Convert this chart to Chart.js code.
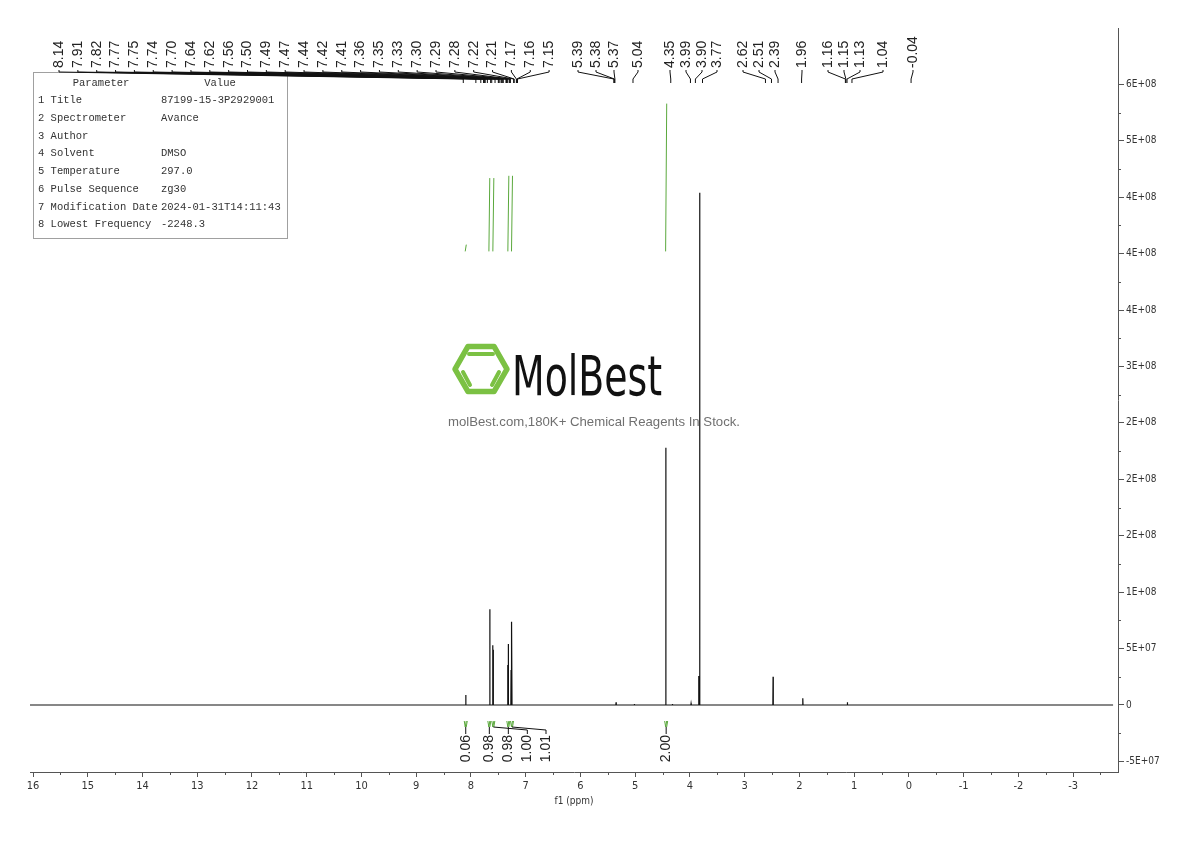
<!DOCTYPE html>
<html>
<head>
<meta charset="utf-8">
<title>1H NMR 87199-15-3</title>
<script src="https://cdn.jsdelivr.net/npm/chart.js@4.4.1/dist/chart.umd.min.js"></script>
<style>
  html, body { margin: 0; padding: 0; background: #fff; }
  #wrap { width: 1190px; height: 841px; }
</style>
</head>
<body>
<div id="wrap"><canvas id="spectrum" width="1190" height="841"></canvas></div>
<script>
// peaks: shift (ppm) and intensity
const peakPpm = [8.095, 7.656, 7.604, 7.595, 7.327, 7.316, 7.267, 7.254, 5.349, 5.015, 4.441, 4.320, 3.979, 3.838, 3.820, 2.481, 1.938, 1.124];
const peakHeight = [8.9e6, 8.48e7, 5.3e7, 4.9e7, 3.55e7, 5.41e7, 3.1e7, 7.38e7, 2.4e6, 0.9e6, 2.28e8, 0.9e6, 1.3e6, 2.57e7, 4.54e8, 2.51e7, 5.9e6, 2.4e6];

// integral curves (green), start/end shift and low/high level
const integralStart = [8.105, 7.672, 7.600, 7.326, 7.259, 4.444];
const integralEnd = [8.085, 7.656, 7.582, 7.308, 7.241, 4.424];
const integralLow = [4.02e8, 4.02e8, 4.02e8, 4.02e8, 4.02e8, 4.02e8];
const integralHigh = [4.08e8, 4.67e8, 4.67e8, 4.69e8, 4.69e8, 5.33e8];
const integralText = ['0.06', '0.98', '1.00', '0.98', '1.01', '2.00'];

// peak picking labels
const peakLabels = ['8.14', '7.91', '7.82', '7.77', '7.75', '7.74', '7.70', '7.64', '7.62', '7.56', '7.50', '7.49', '7.47',
    '7.44', '7.42', '7.41', '7.36', '7.35', '7.33', '7.30', '7.29', '7.28', '7.22', '7.21', '7.17', '7.16', '7.15',
    '5.39', '5.38', '5.37', '5.04', '4.35', '3.99', '3.90', '3.77', '2.62', '2.51', '2.39', '1.96',
    '1.16', '1.15', '1.13', '1.04', '-0.04'];

const xTicks = [16, 15, 14, 13, 12, 11, 10, 9, 8, 7, 6, 5, 4, 3, 2, 1, 0, -1, -2, -3];
const yTicks = [-5e7, 0, 5e7, 1e8, 1.5e8, 2e8, 2.5e8, 3e8, 3.5e8, 4e8, 4.5e8, 5e8, 5.5e8];
const yTickLabels = ['-5E+07', '0', '5E+07', '1E+08', '2E+08', '2E+08', '2E+08', '3E+08', '4E+08', '4E+08', '4E+08', '5E+08', '6E+08'];

const paramNames = ['1 Title', '2 Spectrometer', '3 Author', '4 Solvent', '5 Temperature', '6 Pulse Sequence', '7 Modification Date', '8 Lowest Frequency'];
const paramValues = ['87199-15-3P2929001', 'Avance', '', 'DMSO', '297.0', 'zg30', '2024-01-31T14:11:43', '-2248.3'];

// layout of the label columns (pixels)
const labelX = [];
for (let i = 0; i < 27; i++) labelX.push(59 + i * 18.85);
labelX.push(578, 596, 614, 638, 670, 686, 702, 717, 743, 759, 775, 802, 828, 844, 860, 883, 913);
const integralShift = [0, 0, 34, 0, 34, 0];

const AXIS_FONT = '"DejaVu Sans Condensed", "Liberation Sans Narrow", sans-serif';
const LABEL_FONT = '14px "Liberation Sans", Arial, sans-serif';
const GREEN = '#5aa83c';

// build the trace: flat baseline with narrow peaks
const W = 0.004;
const spectrumPts = [{ x: 16.055, y: 0 }];
peakPpm.forEach((p, i) => {
    spectrumPts.push({ x: p + W, y: 0 }, { x: p, y: peakHeight[i] }, { x: p - W, y: 0 });
});
spectrumPts.push({ x: -3.73, y: 0 });

const datasets = [{
    data: spectrumPts,
    showLine: true,
    borderColor: '#111',
    borderWidth: 1.2,
    pointRadius: 0,
    tension: 0
}];
integralText.forEach((t, i) => {
    datasets.push({
        data: [{ x: integralStart[i], y: integralLow[i] }, { x: integralEnd[i], y: integralHigh[i] }],
        showLine: true,
        borderColor: GREEN,
        borderWidth: 1,
        pointRadius: 0
    });
});

function drawWatermark(ctx) {
    const cx = 481, cy = 369, r = 26;
    ctx.save();
    ctx.strokeStyle = '#7bc143';
    ctx.lineWidth = 5.5;
    ctx.lineJoin = 'round';
    ctx.beginPath();
    for (let k = 0; k < 6; k++) {
        const a = k * Math.PI / 3;
        const px = cx + r * Math.cos(a), py = cy + r * Math.sin(a);
        if (k === 0) ctx.moveTo(px, py); else ctx.lineTo(px, py);
    }
    ctx.closePath();
    ctx.stroke();
    ctx.lineWidth = 4;
    ctx.lineCap = 'round';
    ctx.beginPath();
    ctx.moveTo(cx - 12, cy - 15); ctx.lineTo(cx + 12, cy - 15);
    ctx.moveTo(cx - 18, cy + 3); ctx.lineTo(cx - 11, cy + 16);
    ctx.moveTo(cx + 18, cy + 3); ctx.lineTo(cx + 11, cy + 16);
    ctx.stroke();

    ctx.fillStyle = '#111';
    ctx.font = '56px ' + AXIS_FONT;
    ctx.textBaseline = 'alphabetic';
    ctx.textAlign = 'left';
    let w = ctx.measureText('MolBest').width;
    ctx.save();
    ctx.translate(512, 395);
    ctx.scale(150 / w, 1);
    ctx.fillText('MolBest', 0, 0);
    ctx.restore();

    ctx.fillStyle = '#707070';
    ctx.font = '13px "Liberation Sans", Arial, sans-serif';
    const sub = 'molBest.com,180K+ Chemical Reagents In Stock.';
    w = ctx.measureText(sub).width;
    ctx.save();
    ctx.translate(448, 426);
    ctx.scale(292 / w, 1);
    ctx.fillText(sub, 0, 0);
    ctx.restore();
    ctx.restore();
}

function drawTable(ctx) {
    ctx.save();
    ctx.strokeStyle = '#a0a0a0';
    ctx.lineWidth = 1;
    ctx.strokeRect(33.5, 72.5, 254, 166);
    ctx.fillStyle = '#333';
    ctx.font = '10.5px "Liberation Mono", monospace';
    ctx.textBaseline = 'middle';
    ctx.textAlign = 'center';
    ctx.fillText('Parameter', 101, 83);
    ctx.fillText('Value', 220, 83);
    ctx.textAlign = 'left';
    paramNames.forEach((n, i) => {
        const y = 100.3 + 17.75 * i;
        ctx.fillText(n, 38, y);
        ctx.fillText(paramValues[i], 161, y);
    });
    ctx.restore();
}

const decor = {
    id: 'decor',
    beforeDatasetsDraw(chart) {
        drawWatermark(chart.ctx);
    },
    afterDraw(chart) {
        const ctx = chart.ctx;
        const xs = chart.scales.x, ys = chart.scales.y;
        const area = chart.chartArea;

        // minor ticks
        ctx.save();
        ctx.strokeStyle = '#555';
        ctx.lineWidth = 1;
        ctx.beginPath();
        for (let v = 15.5; v > -3.6; v -= 1) {
            const px = Math.round(xs.getPixelForValue(v)) + 0.5;
            ctx.moveTo(px, area.bottom); ctx.lineTo(px, area.bottom + 3);
        }
        for (let v = -2.5e7; v < 5.5e8; v += 5e7) {
            const py = Math.round(ys.getPixelForValue(v)) + 0.5;
            ctx.moveTo(area.right, py); ctx.lineTo(area.right + 3, py);
        }
        ctx.stroke();

        // axis title
        ctx.fillStyle = '#333';
        ctx.font = '10px ' + AXIS_FONT;
        ctx.textAlign = 'center';
        ctx.textBaseline = 'middle';
        ctx.fillText('f1 (ppm)', (area.left + area.right) / 2, 801);
        ctx.restore();

        drawTable(ctx);

        // peak labels with leader lines
        ctx.save();
        ctx.strokeStyle = '#111';
        ctx.fillStyle = '#222';
        ctx.lineWidth = 1;
        ctx.font = LABEL_FONT;
        peakLabels.forEach((t, i) => {
            const lx = labelX[i];
            const tx = xs.getPixelForValue(parseFloat(t));
            ctx.beginPath();
            ctx.moveTo(lx, 70); ctx.lineTo(lx, 72); ctx.lineTo(tx, 79); ctx.lineTo(tx, 83);
            ctx.stroke();
            ctx.save();
            ctx.translate(lx, 68);
            ctx.rotate(-Math.PI / 2);
            ctx.textAlign = 'left';
            ctx.textBaseline = 'middle';
            ctx.fillText(t, 0, 0);
            ctx.restore();
        });
        ctx.restore();

        // integral marks and values under the baseline
        ctx.save();
        ctx.font = LABEL_FONT;
        ctx.lineWidth = 1;
        integralText.forEach((t, i) => {
            const tx = xs.getPixelForValue((integralStart[i] + integralEnd[i]) / 2);
            const lx = tx + integralShift[i];
            ctx.strokeStyle = GREEN;
            ctx.beginPath();
            ctx.moveTo(tx - 1.5, 721); ctx.lineTo(tx - 0.5, 727); ctx.lineTo(tx + 0.5, 721);
            ctx.moveTo(tx + 0.5, 727); ctx.lineTo(tx + 1.5, 721);
            ctx.stroke();
            ctx.strokeStyle = '#111';
            ctx.beginPath();
            if (integralShift[i]) {
                ctx.moveTo(tx, 727); ctx.lineTo(lx, 730); ctx.lineTo(lx, 734);
            } else {
                ctx.moveTo(tx, 727); ctx.lineTo(tx, 734);
            }
            ctx.stroke();
            ctx.save();
            ctx.fillStyle = '#222';
            ctx.translate(lx, 735);
            ctx.rotate(-Math.PI / 2);
            ctx.textAlign = 'right';
            ctx.textBaseline = 'middle';
            ctx.fillText(t, 0, 0);
            ctx.restore();
        });
        ctx.restore();
    }
};

new Chart(document.getElementById('spectrum').getContext('2d'), {
    type: 'scatter',
    data: { datasets: datasets },
    options: {
        responsive: false,
        animation: false,
        layout: { padding: { left: 30, top: 28, right: 0, bottom: 0 } },
        plugins: { legend: { display: false }, tooltip: { enabled: false } },
        scales: {
            x: {
                type: 'linear',
                position: 'bottom',
                reverse: true,
                min: -3.82,
                max: 16.055,
                afterBuildTicks: s => { s.ticks = xTicks.map(v => ({ value: v })); },
                afterFit: s => { s.height = 69; },
                ticks: {
                    autoSkip: false,
                    maxRotation: 0,
                    padding: 3,
                    color: '#333',
                    font: { family: AXIS_FONT, size: 11 },
                    callback: v => String(v)
                },
                grid: { drawOnChartArea: false, tickLength: 5, color: '#555' },
                border: { color: '#555' }
            },
            y: {
                type: 'linear',
                position: 'right',
                min: -5.94e7,
                max: 6.0e8,
                afterBuildTicks: s => { s.ticks = yTicks.map(v => ({ value: v })); },
                afterFit: s => { s.width = 72; },
                ticks: {
                    autoSkip: false,
                    padding: 2,
                    color: '#333',
                    font: { family: AXIS_FONT, size: 10 },
                    callback: v => yTickLabels[yTicks.indexOf(v)]
                },
                grid: { drawOnChartArea: false, tickLength: 6, color: '#555' },
                border: { color: '#555' }
            }
        }
    },
    plugins: [decor]
});
</script>
</body>
</html>
